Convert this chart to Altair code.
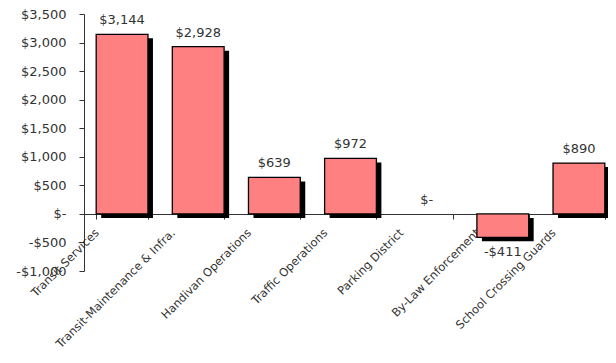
import altair as alt
import pandas as pd

categories = [
    "Transit Services",
    "Transit-Maintenance & Infra.",
    "Handivan Operations",
    "Traffic Operations",
    "Parking District",
    "By-Law Enforcement",
    "School Crossing Guards",
]
values = [3144, 2928, 639, 972, 0, -411, 890]
y_ticks = [-1000, -500, 0, 500, 1000, 1500, 2000, 2500, 3000, 3500]

df = pd.DataFrame({"category": categories, "value": values})

money_expr = "datum.value == 0 ? '$-' : (datum.value < 0 ? '-$' : '$') + format(abs(datum.value), ',')"

x_enc = alt.X(
    "category:N",
    sort=categories,
    scale=alt.Scale(range=[0, 533], paddingInner=0.32, paddingOuter=0.16),
    axis=alt.Axis(
        title=None,
        labelAngle=-45,
        labelAlign="right",
        labelBaseline="middle",
        labelOffset=-25,
        labelPadding=12,
        tickBand="extent",
        tickSize=5,
        offset=-57,
        domainColor="#333333",
        tickColor="#333333",
        labelFont="DejaVu Sans",
        labelFontSize=11.5,
        labelColor="#333333",
        labelLimit=400,
        labelOverlap=False,
    ),
)

y_enc = alt.Y(
    "value:Q",
    scale=alt.Scale(domain=[-1000, 3500], nice=False),
    axis=alt.Axis(
        title=None,
        values=y_ticks,
        labelExpr=money_expr,
        grid=False,
        tickSize=5,
        labelPadding=13,
        domainColor="#333333",
        tickColor="#333333",
        labelFont="DejaVu Sans",
        labelFontSize=13,
        labelColor="#333333",
    ),
)

base = alt.Chart(df).encode(x=x_enc, y=y_enc)

nonzero = base.transform_filter("datum.value != 0")
shadow = nonzero.mark_bar(color="black", xOffset=5, yOffset=4)
bars = nonzero.mark_bar(color="#FF8080", stroke="black", strokeWidth=1.3)

labels = base.transform_calculate(label=money_expr)

pos_text = labels.transform_filter("datum.value >= 0").mark_text(
    baseline="middle", dy=-14, font="DejaVu Sans", fontSize=13, color="#333333"
).encode(text="label:N")
neg_text = labels.transform_filter("datum.value < 0").mark_text(
    baseline="middle", dy=15, font="DejaVu Sans", fontSize=13, color="#333333"
).encode(text="label:N")

chart = (
    alt.layer(shadow, bars, pos_text, neg_text)
    .properties(
        width=524,
        height=257,
        autosize=alt.AutoSizeParams(type="none"),
        padding={"left": 76, "top": 6, "right": 0, "bottom": 80},
    )
    .configure_view(strokeWidth=0)
)

chart.save("out.html", embed_options={"renderer": "svg", "actions": False})
